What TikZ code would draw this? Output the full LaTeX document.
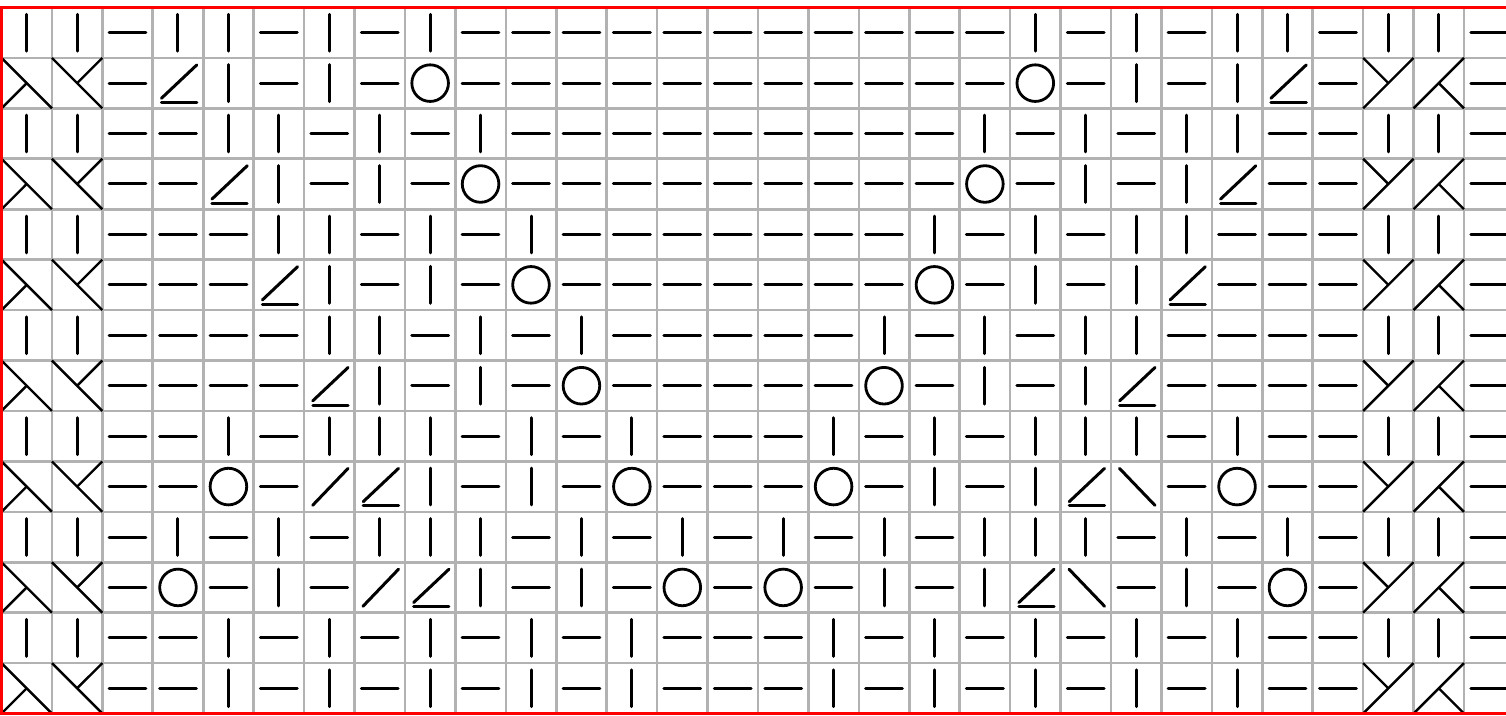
\documentclass[tikz,border=0pt]{standalone}
\definecolor{gridgray}{RGB}{178,178,178}
\newcommand\kcK[2]{\draw[sym] (#1+25.2,#2+6.8) -- (#1+25.2,#2+43.6);}
\newcommand\kcP[2]{\draw[sym] (#1+6.8,#2+25.2) -- (#1+43.6,#2+25.2);}
\newcommand\kcO[2]{\draw[line width=2.8pt] (#1+25.2,#2+25.2) circle[radius=18.3];}
\newcommand\kcA[2]{\draw[sym] (#1+8.7,#2+40.3) -- (#1+44,#2+7); \draw[sym] (#1+8.7,#2+44.5) -- (#1+44,#2+44.5);}
\newcommand\kcS[2]{\draw[sym] (#1+8.5,#2+44) -- (#1+44,#2+7);}
\newcommand\kcB[2]{\draw[sym] (#1+8.5,#2+7) -- (#1+44,#2+44);}
\newcommand\kcL[2]{\draw[cab] (#1,#2) -- (#1+50.43,#2+50.43); \draw[cab] (#1,#2+50.43) -- (#1+25.2,#2+25.2);}
\newcommand\kcM[2]{\draw[cab] (#1,#2) -- (#1+50.43,#2+50.43); \draw[cab] (#1+25.2,#2+25.2) -- (#1+50.43,#2);}
\newcommand\kcR[2]{\draw[cab] (#1,#2+50.43) -- (#1+50.43,#2); \draw[cab] (#1,#2) -- (#1+25.2,#2+25.2);}
\newcommand\kcT[2]{\draw[cab] (#1,#2+50.43) -- (#1+50.43,#2); \draw[cab] (#1+25.2,#2+25.2) -- (#1+50.43,#2+50.43);}
\begin{document}
\begin{tikzpicture}[x=1pt,y=-1pt,
  sym/.style={line width=3pt,line cap=round},
  cab/.style={line width=2.4pt},
  gridline/.style={gridgray,line width=2.6pt}]
\useasboundingbox (0,0) rectangle (1506,715);
\fill[white] (0,0) rectangle (1506,715);
\clip (0,0) rectangle (1506,715);
\foreach \k in {1,...,29} \draw[gridline] ({1.5+\k*50.43},7.5) -- ({1.5+\k*50.43},713.5);
\foreach \k in {1,...,13} \draw[gridline] (1.5,{7.5+\k*50.43}) -- (1520,{7.5+\k*50.43});
\foreach \row [count=\j from 0] in {%
{K,K,P,K,K,P,K,P,K,P,P,P,P,P,P,P,P,P,P,P,K,P,K,P,K,K,P,K,K,P},%
{L,M,P,A,K,P,K,P,O,P,P,P,P,P,P,P,P,P,P,P,O,P,K,P,K,A,P,R,T,P},%
{K,K,P,P,K,K,P,K,P,K,P,P,P,P,P,P,P,P,P,K,P,K,P,K,K,P,P,K,K,P},%
{L,M,P,P,A,K,P,K,P,O,P,P,P,P,P,P,P,P,P,O,P,K,P,K,A,P,P,R,T,P},%
{K,K,P,P,P,K,K,P,K,P,K,P,P,P,P,P,P,P,K,P,K,P,K,K,P,P,P,K,K,P},%
{L,M,P,P,P,A,K,P,K,P,O,P,P,P,P,P,P,P,O,P,K,P,K,A,P,P,P,R,T,P},%
{K,K,P,P,P,P,K,K,P,K,P,K,P,P,P,P,P,K,P,K,P,K,K,P,P,P,P,K,K,P},%
{L,M,P,P,P,P,A,K,P,K,P,O,P,P,P,P,P,O,P,K,P,K,A,P,P,P,P,R,T,P},%
{K,K,P,P,K,P,K,K,K,P,K,P,K,P,P,P,K,P,K,P,K,K,K,P,K,P,P,K,K,P},%
{L,M,P,P,O,P,S,A,K,P,K,P,O,P,P,P,O,P,K,P,K,A,B,P,O,P,P,R,T,P},%
{K,K,P,K,P,K,P,K,K,K,P,K,P,K,P,K,P,K,P,K,K,K,P,K,P,K,P,K,K,P},%
{L,M,P,O,P,K,P,S,A,K,P,K,P,O,P,O,P,K,P,K,A,B,P,K,P,O,P,R,T,P},%
{K,K,P,P,K,P,K,P,K,P,K,P,K,P,P,P,K,P,K,P,K,P,K,P,K,P,P,K,K,P},%
{L,M,P,P,K,P,K,P,K,P,K,P,K,P,P,P,K,P,K,P,K,P,K,P,K,P,P,R,T,P}%
}{%
  \foreach \c [count=\i from 0] in \row {%
    \pgfmathsetmacro\xx{1.5+\i*50.43}%
    \pgfmathsetmacro\yy{7.5+\j*50.43}%
    \csname kc\c\endcsname{\xx}{\yy}%
  }%
}
\draw[red,line width=3pt] (1.5,7.5) rectangle (1514.4,713.5);
\end{tikzpicture}
\end{document}
